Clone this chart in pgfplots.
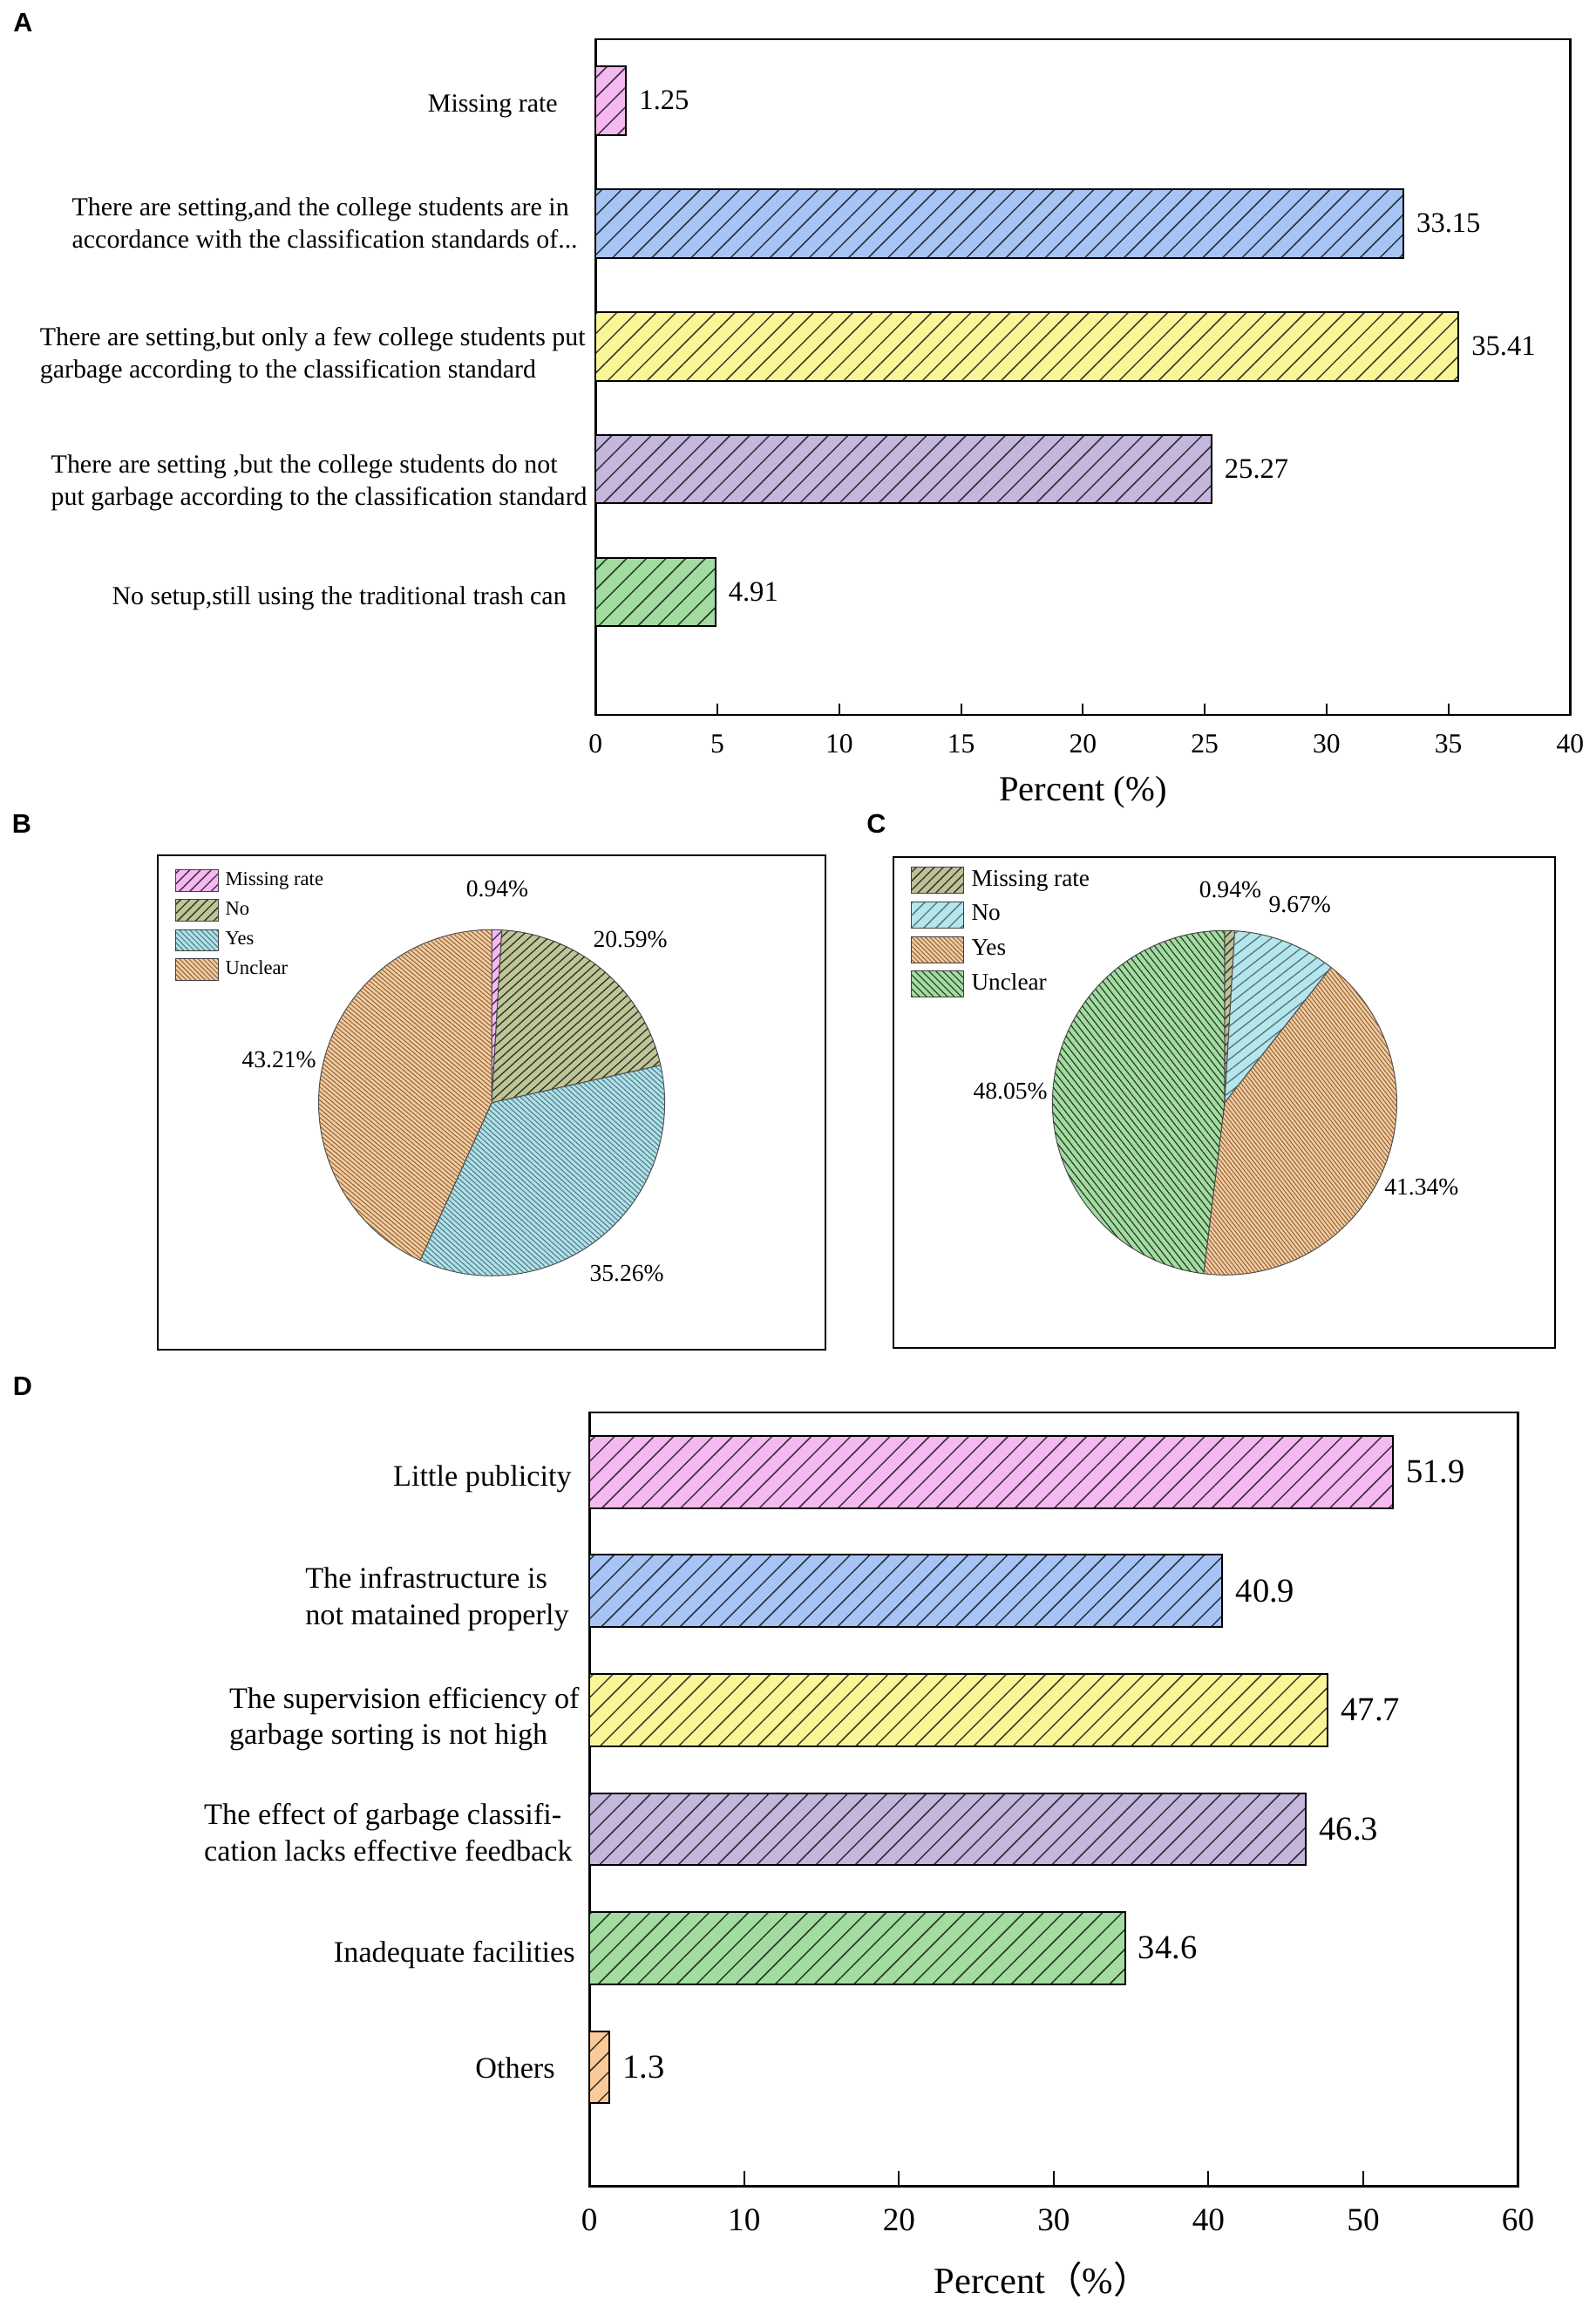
\documentclass[border=0pt]{standalone}
\usepackage{fontspec}
\setmainfont{Liberation Serif}
\setsansfont{Liberation Sans}
\newfontfamily\cjk{Noto Sans CJK SC}
\usepackage{pgfplots}
\pgfplotsset{compat=1.18}
\usepackage{pgfplotstable}
\usetikzlibrary{patterns.meta}

\definecolor{cPink}{RGB}{246,184,240}
\definecolor{cBlue}{RGB}{166,196,244}
\definecolor{cYellow}{RGB}{250,246,152}
\definecolor{cPurple}{RGB}{196,182,220}
\definecolor{cGreen}{RGB}{162,220,160}
\definecolor{cOrange}{RGB}{250,202,152}
\definecolor{cOlive}{RGB}{190,198,152}
\definecolor{cSky}{RGB}{172,226,236}
\definecolor{cCyan}{RGB}{180,230,238}
\definecolor{cOliveC}{RGB}{190,192,150}

\tikzset{
  hatch/.style n args={4}{fill=#1,
    postaction={pattern={Lines[angle=#2,distance=#3,line width=#4]}, pattern color=#1!25!black}},
  lhatch/.style n args={4}{fill=#1,
    postaction={pattern={Lines[angle=#2,distance=#3,line width=#4]}, pattern color=#1!50!black}},
  catA/.style={font=\fontsize{9}{11.1}\selectfont, align=left, inner sep=0pt, anchor=east},
  catD/.style={font=\fontsize{10.3}{12.6}\selectfont, align=left, inner sep=0pt, anchor=east},
  pct/.style={font=\fontsize{8.3}{10}\selectfont, inner sep=0pt},
  letter/.style={font=\sffamily\bfseries\fontsize{9.2}{11}\selectfont, inner sep=0pt},
}
\pgfplotsset{
  hbar/.style n args={3}{xbar, bar shift=0pt, bar width=#2, draw=black, line width=0.6pt,
    hatch={#1}{45}{4.8pt}{0.45pt},
    point meta=explicit symbolic, nodes near coords,
    nodes near coords style={font=\rmfamily\fontsize{#3}{12}\selectfont, anchor=west, inner sep=0pt, xshift=4.3pt}},
  barframe/.style={scale only axis, anchor=south west, ytick=\empty,
    xtick pos=bottom, tick align=inside,
    tick style={black, line width=0.6pt},
    axis line style={black, line width=0.8pt},
    /pgf/number format/assume math mode=true, clip=false},
  pieframe/.style={scale only axis, anchor=south west, ticks=none,
    axis line style={black, line width=0.6pt}, clip=false,
    legend cell align=left},
  legB/.style={legend image code/.code={\draw[##1] (0pt,-3.7pt) rectangle (15pt,3.7pt);}},
  legC/.style={legend image code/.code={\draw[##1] (0pt,-4.5pt) rectangle (18.3pt,4.5pt);}},
}

\pgfplotstableread{
name value
Missing 0.94
No 20.59
Yes 35.26
Unclear 43.21
}\pieB
\pgfplotstableread{
name value
Missing 0.94
No 9.67
Yes 41.34
Unclear 48.05
}\pieC

\begin{document}
\begin{tikzpicture}
\path (0pt,0pt) rectangle (550.5pt,-793.8pt);

% slice angles, clockwise from the top
\pgfplotstablegetelem{0}{value}\of\pieB \pgfmathsetmacro\Ba{90-3.6*\pgfplotsretval}
\pgfplotstablegetelem{1}{value}\of\pieB \pgfmathsetmacro\Bb{\Ba-3.6*\pgfplotsretval}
\pgfplotstablegetelem{2}{value}\of\pieB \pgfmathsetmacro\Bc{\Bb-3.6*\pgfplotsretval}
\pgfplotstablegetelem{0}{value}\of\pieC \pgfmathsetmacro\Ca{90-3.6*\pgfplotsretval}
\pgfplotstablegetelem{1}{value}\of\pieC \pgfmathsetmacro\Cb{\Ca-3.6*\pgfplotsretval}
\pgfplotstablegetelem{2}{value}\of\pieC \pgfmathsetmacro\Cc{\Cb-3.6*\pgfplotsretval}

\node[letter] at (7.95pt,-7.8pt) {A};
\node[letter] at (7.5pt,-284.1pt) {B};
\node[letter] at (302.4pt,-284.1pt) {C};
\node[letter] at (7.8pt,-478.2pt) {D};

% ---------------- A
\begin{axis}[barframe,
  at={(205.5pt,-246.6pt)}, width=336.3pt, height=233.1pt,
  xmin=0, xmax=40, ymin=-1, ymax=4.5,
  xtick={0,5,...,40}, major tick length=3.9pt,
  xticklabel style={font=\rmfamily\fontsize{9.5}{11}\selectfont, anchor=center, yshift=-10pt, inner sep=0pt},
  xlabel={Percent (\%)},
  xlabel style={font=\fontsize{12.2}{14}\selectfont, at={(axis description cs:0.5,0)}, anchor=center, yshift=-26.7pt},
]
\addplot[hbar={cPink}{23.7pt}{9.8}] coordinates {(1.25,4) [1.25]};
\addplot[hbar={cBlue}{23.7pt}{9.8}] coordinates {(33.15,3) [33.15]};
\addplot[hbar={cYellow}{23.7pt}{9.8}] coordinates {(35.41,2) [35.41]};
\addplot[hbar={cPurple}{23.7pt}{9.8}] coordinates {(25.27,1) [25.27]};
\addplot[hbar={cGreen}{23.7pt}{9.8}] coordinates {(4.91,0) [4.91]};
\node[catA, xshift=-12.9pt, yshift=-1.8pt] at (axis cs:0,4) {Missing rate};
\node[catA, xshift=-6pt] at (axis cs:0,3) {There are setting,and the college students are in\\accordance with the classification standards of...};
\node[catA, xshift=-3.3pt, yshift=-3.3pt] at (axis cs:0,2) {There are setting,but only a few college students put\\garbage according to the classification standard};
\node[catA, xshift=-2.7pt, yshift=-4.8pt] at (axis cs:0,1) {There are setting ,but the college students do not\\put garbage according to the classification standard};
\node[catA, xshift=-9.9pt, yshift=-2.1pt] at (axis cs:0,0) {No setup,still using the traditional trash can};
\end{axis}

% ---------------- B
\begin{axis}[pieframe,
  at={(54.3pt,-465.6pt)}, width=230.4pt, height=170.4pt,
  xmin=181, xmax=949, ymin=-1552, ymax=-984,
  legend style={at={(0.026,0.972)}, anchor=north west, draw=none, fill=none,
    inner sep=0pt, outer sep=0pt, row sep=2.5pt,
    font=\fontsize{6.8}{8}\selectfont, nodes={inner xsep=2.1pt, inner ysep=0pt, anchor=west}},
]
\addlegendimage{legB, draw=black!75, line width=0.3pt, hatch={cPink}{45}{2.6pt}{0.4pt}}
\addlegendentry{Missing rate}
\addlegendimage{legB, draw=black!75, line width=0.3pt, hatch={cOlive}{45}{2.2pt}{0.4pt}}
\addlegendentry{No}
\addlegendimage{legB, draw=black!75, line width=0.3pt, lhatch={cSky}{-45}{1.3pt}{0.3pt}}
\addlegendentry{Yes}
\addlegendimage{legB, draw=black!75, line width=0.3pt, lhatch={cOrange}{-45}{1.15pt}{0.3pt}}
\addlegendentry{Unclear}
\draw[draw=black!70, line width=0.3pt, hatch={cPink}{45}{2.6pt}{0.4pt}]
  (axis cs:565.5,-1268) -- ++(90:59.7pt) arc[start angle=90, end angle=\Ba, radius=59.7pt] -- cycle;
\draw[draw=black!70, line width=0.3pt, hatch={cOlive}{42}{2.2pt}{0.4pt}]
  (axis cs:565.5,-1268) -- ++(\Ba:59.7pt) arc[start angle=\Ba, end angle=\Bb, radius=59.7pt] -- cycle;
\draw[draw=black!70, line width=0.3pt, lhatch={cSky}{-42}{1.3pt}{0.3pt}]
  (axis cs:565.5,-1268) -- ++(\Bb:59.7pt) arc[start angle=\Bb, end angle=\Bc, radius=59.7pt] -- cycle;
\draw[draw=black!70, line width=0.3pt, lhatch={cOrange}{-40}{1.15pt}{0.3pt}]
  (axis cs:565.5,-1268) -- ++(\Bc:59.7pt) arc[start angle=\Bc, end angle=-270, radius=59.7pt] -- cycle;
\node[pct] at (axis cs:572,-1022) {0.94\%};
\node[pct] at (axis cs:725,-1080) {20.59\%};
\node[pct] at (axis cs:321,-1219) {43.21\%};
\node[pct] at (axis cs:721,-1464) {35.26\%};
\end{axis}

% ---------------- C
\begin{axis}[pieframe,
  at={(308.4pt,-465pt)}, width=228.3pt, height=169.2pt,
  xmin=1028, xmax=1789, ymin=-1550, ymax=-986,
  legend style={at={(0.025,0.981)}, anchor=north west, draw=none, fill=none,
    inner sep=0pt, outer sep=0pt, row sep=2.6pt,
    font=\fontsize{8.2}{10}\selectfont, nodes={inner xsep=2.4pt, inner ysep=0pt, anchor=west}},
]
\addlegendimage{legC, draw=black!75, line width=0.3pt, hatch={cOliveC}{45}{2.2pt}{0.4pt}}
\addlegendentry{Missing rate}
\addlegendimage{legC, draw=black!75, line width=0.3pt, lhatch={cCyan}{45}{3pt}{0.4pt}}
\addlegendentry{No}
\addlegendimage{legC, draw=black!75, line width=0.3pt, lhatch={cOrange}{-45}{1.1pt}{0.3pt}}
\addlegendentry{Yes}
\addlegendimage{legC, draw=black!75, line width=0.3pt, hatch={cGreen}{-45}{1.7pt}{0.35pt}}
\addlegendentry{Unclear}
\draw[draw=black!70, line width=0.3pt, hatch={cOliveC}{45}{2.2pt}{0.4pt}]
  (axis cs:1408.5,-1268) -- ++(90:59.4pt) arc[start angle=90, end angle=\Ca, radius=59.4pt] -- cycle;
\draw[draw=black!70, line width=0.3pt, lhatch={cCyan}{38}{3pt}{0.4pt}]
  (axis cs:1408.5,-1268) -- ++(\Ca:59.4pt) arc[start angle=\Ca, end angle=\Cb, radius=59.4pt] -- cycle;
\draw[draw=black!70, line width=0.3pt, lhatch={cOrange}{-52}{1.1pt}{0.3pt}]
  (axis cs:1408.5,-1268) -- ++(\Cb:59.4pt) arc[start angle=\Cb, end angle=\Cc, radius=59.4pt] -- cycle;
\draw[draw=black!70, line width=0.3pt, hatch={cGreen}{-52}{1.8pt}{0.35pt}]
  (axis cs:1408.5,-1268) -- ++(\Cc:59.4pt) arc[start angle=\Cc, end angle=-270, radius=59.4pt] -- cycle;
\node[pct] at (axis cs:1415,-1023) {0.94\%};
\node[pct] at (axis cs:1495,-1040) {9.67\%};
\node[pct] at (axis cs:1162,-1255) {48.05\%};
\node[pct] at (axis cs:1635,-1365) {41.34\%};
\end{axis}

% ---------------- D
\begin{axis}[barframe,
  at={(203.4pt,-754.2pt)}, width=320.4pt, height=267pt,
  xmin=0, xmax=60, ymin=-1, ymax=5.5,
  xtick={0,10,...,60}, major tick length=5.4pt,
  xticklabel style={font=\rmfamily\fontsize{11.2}{13}\selectfont, anchor=center, yshift=-11.6pt, inner sep=0pt},
  xlabel={Percent{\cjk （}\%{\cjk ）}},
  xlabel style={font=\fontsize{12.8}{15}\selectfont, at={(axis description cs:0.5,0)}, anchor=center, yshift=-32.2pt, xshift=-4pt},
]
\addplot[hbar={cPink}{24.9pt}{11.6}] coordinates {(51.9,5) [51.9]};
\addplot[hbar={cBlue}{24.9pt}{11.6}] coordinates {(40.9,4) [40.9]};
\addplot[hbar={cYellow}{24.9pt}{11.6}] coordinates {(47.7,3) [47.7]};
\addplot[hbar={cPurple}{24.9pt}{11.6}] coordinates {(46.3,2) [46.3]};
\addplot[hbar={cGreen}{24.9pt}{11.6}] coordinates {(34.6,1) [34.6]};
\addplot[hbar={cOrange}{24.9pt}{11.6}] coordinates {(1.3,0) [1.3]};
\node[catD, xshift=-6pt, yshift=-2.4pt] at (axis cs:0,5) {Little publicity};
\node[catD, xshift=-6.9pt, yshift=-2.8pt] at (axis cs:0,4) {The infrastructure is\\not matained properly};
\node[catD, xshift=-3.3pt, yshift=-3.1pt] at (axis cs:0,3) {The supervision efficiency of\\garbage sorting is not high};
\node[catD, xshift=-5.7pt, yshift=-1pt] at (axis cs:0,2) {The effect of garbage classifi-\\cation lacks effective feedback};
\node[catD, xshift=-4.8pt, yshift=-2.2pt] at (axis cs:0,1) {Inadequate facilities};
\node[catD, xshift=-11.7pt, yshift=-0.3pt] at (axis cs:0,0) {Others};
\end{axis}
\end{tikzpicture}
\end{document}
